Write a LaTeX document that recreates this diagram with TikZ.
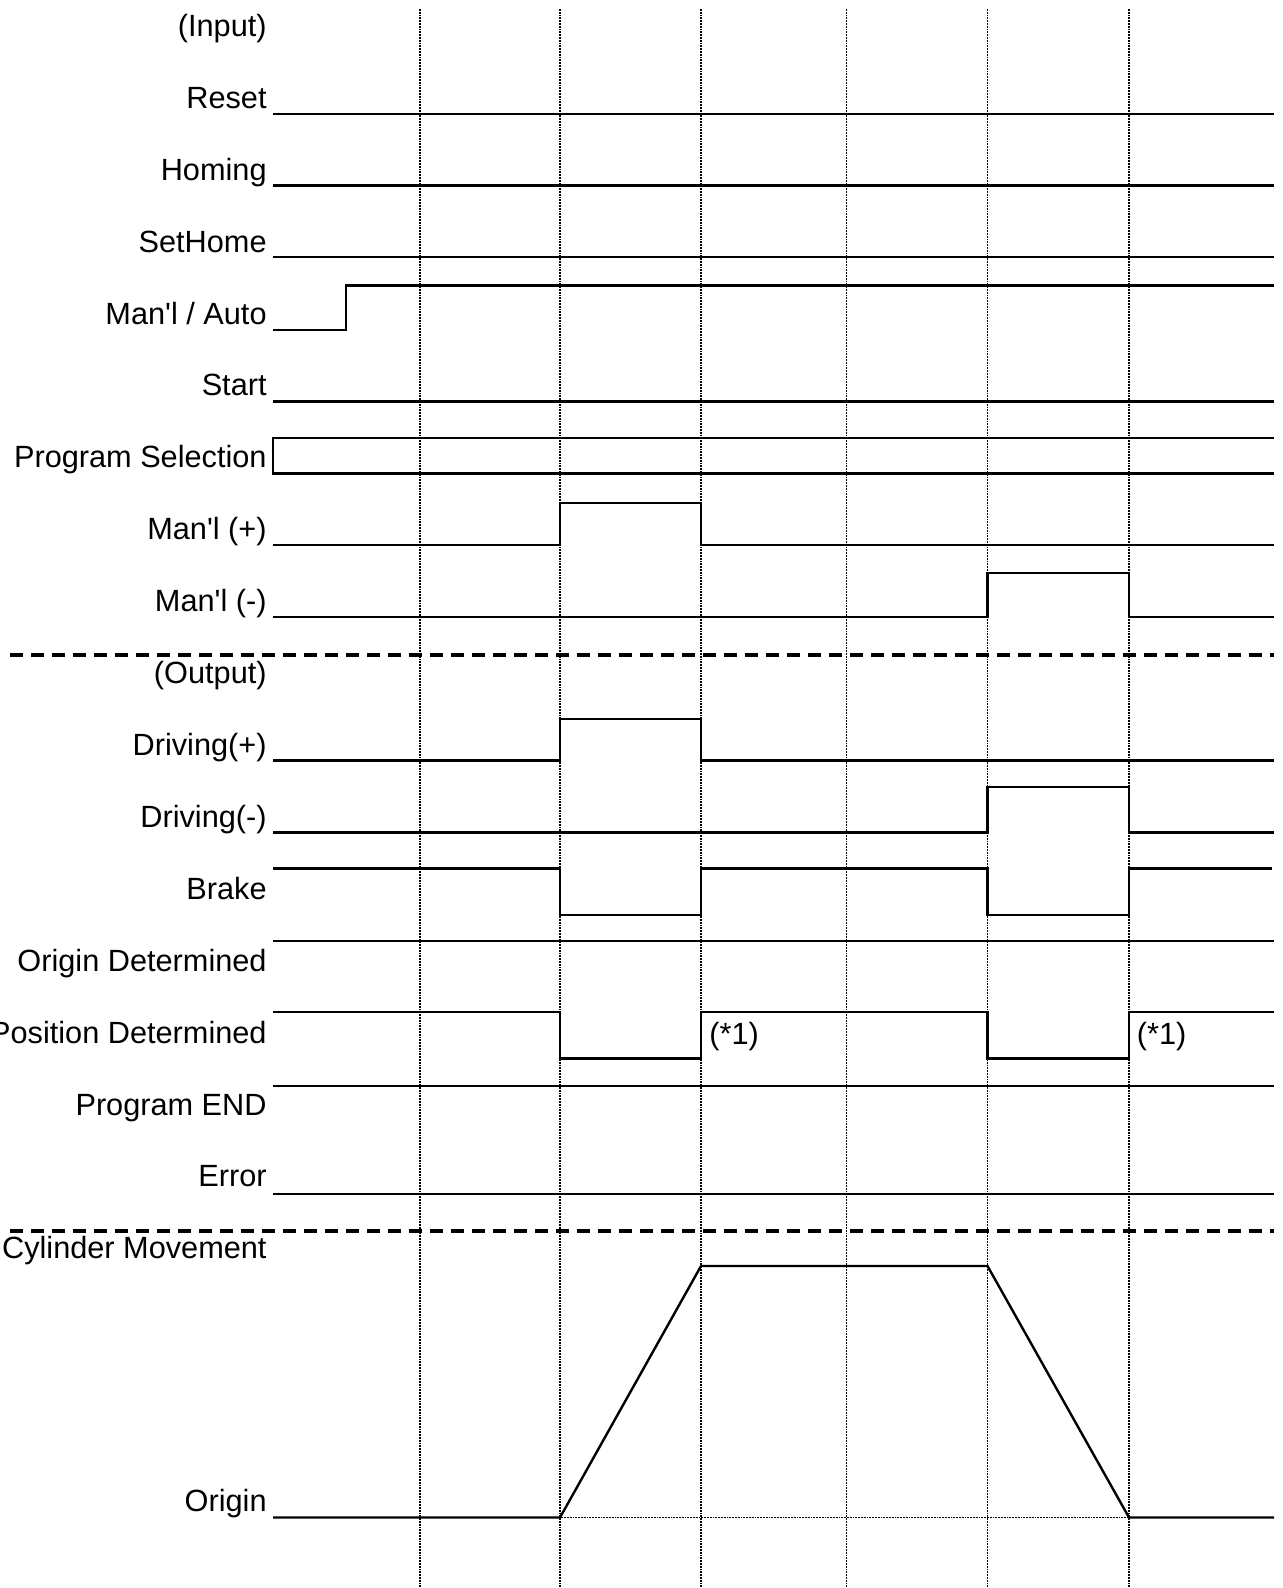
\documentclass[tikz,border=0pt]{standalone}
\usepackage{fontspec}
\setmainfont{Liberation Sans}[Ligatures=TeXOff]
\begin{document}
\begin{tikzpicture}[x=0.5pt, y=-0.5pt,
    lbl/.style={anchor=base east, inner sep=0pt, font=\fontsize{15.35}{18}\selectfont},
    note/.style={anchor=base west, inner sep=0pt, font=\fontsize{15.35}{18}\selectfont},
    sig/.style={line width=1.2pt, line join=miter},
    gridline/.style={line width=0.6pt, dash pattern=on 0.9pt off 0.5pt},
    sep/.style={line width=2pt, dash pattern=on 6.5pt off 4pt}]
    \useasboundingbox (0,0) rectangle (1282,1588);
    \fill[white] (0,0) rectangle (1282,1588);

    \foreach \gx in {420,560,701,846.5,987.5,1129}
        \draw[gridline] (\gx,9) -- (\gx,1588);
    \draw[gridline] (273,1517.5) -- (1274,1517.5);

    \node[lbl] (input) at (267,36.5) {(Input)};
    \node[lbl] (reset) at (267,108.4) {Reset};
    \node[lbl] (homing) at (267,180.3) {Homing};
    \node[lbl] (sethome) at (267,252.2) {SetHome};
    \node[lbl] (manauto) at (267,324.1) {Man'l / Auto};
    \node[lbl] (start) at (267,396) {Start};
    \node[lbl] (progsel) at (267,467.9) {Program Selection};
    \node[lbl] (manplus) at (267,539.8) {Man'l (+)};
    \node[lbl] (manminus) at (267,611.7) {Man'l (-)};
    \node[lbl] (output) at (267,683.6) {(Output)};
    \node[lbl] (drvplus) at (267,755.5) {Driving(+)};
    \node[lbl] (drvminus) at (267,827.4) {Driving(-)};
    \node[lbl] (brake) at (267,899.3) {Brake};
    \node[lbl] (origdet) at (267,971.2) {Origin Determined};
    \node[lbl] (posdet) at (267,1043.1) {Position Determined};
    \node[lbl] (progend) at (267,1115) {Program END};
    \node[lbl] (error) at (267,1186.9) {Error};
    \node[lbl] (cylmove) at (267,1258.8) {Cylinder Movement};
    \node[lbl] (origin) at (267,1511.5) {Origin};
    \node[note] (noteA) at (709,1044) {(*1)};
    \node[note] (noteB) at (1136.5,1044) {(*1)};

    \draw[sig] (273,114)--(1274,114); \draw[sig] (273,185.7)--(1274,185.7); \draw[sig] (273,257)--(1274,257);
    \draw[sig] (273,330)--(346,330)--(346,285.7)--(1274,285.7);
    \draw[sig] (273,401.5)--(1274,401.5);
    \draw[sig] (1274,438)--(272.7,438)--(272.7,473.5)--(1274,473.5);
    \draw[sig] (273,545)--(560,545)--(560,503)--(701,503)--(701,545)--(1274,545);
    \draw[sig] (273,617)--(987.5,617)--(987.5,573)--(1129,573)--(1129,617)--(1274,617);
    \draw[sep] (10,654.5)--(1274,654.5);

    \draw[sig] (273,760.5)--(560,760.5)--(560,719)--(701,719)--(701,760.5)--(1274,760.5);
    \draw[sig] (273,832.3)--(987.5,832.3)--(987.5,786.7)--(1129,786.7)--(1129,832.3)--(1274,832.3);
    \draw[sig] (273,868.5)--(560,868.5)--(560,915)--(701,915)--(701,868.5)--(987.5,868.5)--(987.5,915)--(1129,915)--(1129,868.5)--(1272,868.5);
    \draw[sig] (273,940.7)--(1274,940.7);
    \draw[sig] (273,1012)--(560,1012)--(560,1058.5)--(701,1058.5)--(701,1012)--(987.5,1012)--(987.5,1058.5)--(1129,1058.5)--(1129,1012)--(1274,1012);
    \draw[sig] (273,1086)--(1274,1086); \draw[sig] (273,1194)--(1274,1194);
    \draw[sep] (10,1231)--(1274,1231);

    \draw[sig] (273,1517.5)--(560,1517.5)--(701,1266)--(987.5,1266)--(1129,1517.5)--(1274,1517.5);
\end{tikzpicture}
\end{document}
